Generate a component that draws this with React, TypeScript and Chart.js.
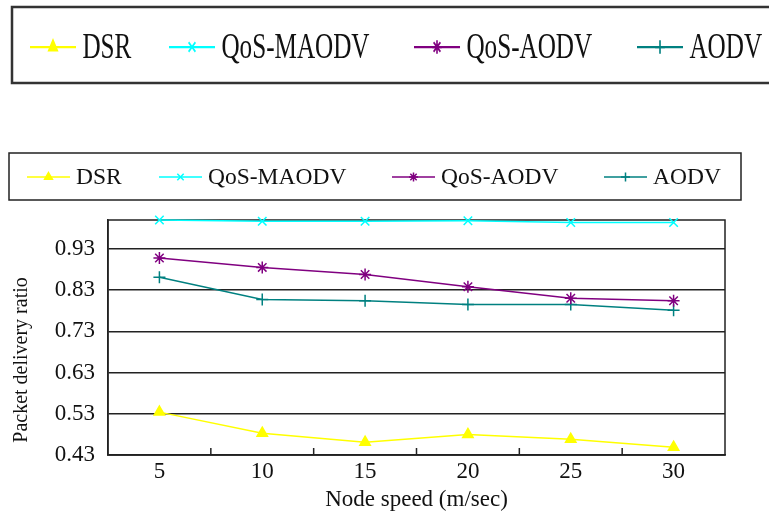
import React, { useEffect, useRef } from "react";
import { Chart, registerables } from "chart.js";
import { drawPoint } from "chart.js/helpers";

Chart.register(...registerables);

// ---- data ----
const categories = ["5", "10", "15", "20", "25", "30"];
const seriesNames = ["DSR", "QoS-MAODV", "QoS-AODV", "AODV"];
const dsr = [0.534, 0.483, 0.461, 0.48, 0.468, 0.449];
const qosMaodv = [1.0, 0.997, 0.997, 0.998, 0.994, 0.994];
const qosAodv = [0.908, 0.885, 0.868, 0.838, 0.81, 0.804];
const aodv = [0.861, 0.807, 0.804, 0.795, 0.795, 0.781];
const yTicks = [0.43, 0.53, 0.63, 0.73, 0.83, 0.93];
const yMin = 0.43;
const yMax = 1.0;
const xTitle = "Node speed (m/sec)";
const yTitle = "Packet delivery ratio";

const colors = ["#FFFF00", "#00FFFF", "#800080", "#008080"];
const pointStyles = ["triangle", "crossRot", "star", "cross"];
const seriesValues = [dsr, qosMaodv, qosAodv, aodv];

const FONT = "'Liberation Serif', 'Times New Roman', serif";
const INK = "#111";
const FRAME = "#222";

type LegendCfg = {
  starts: number[];
  midY: number;
  sx: number;
  sy: number;
};

function drawLegendItems(ctx: CanvasRenderingContext2D, chart: any, cfg: LegendCfg) {
  const L = 43;
  chart.data.datasets.forEach((d: any, i: number) => {
    ctx.save();
    ctx.translate(cfg.starts[i], cfg.midY);
    ctx.scale(cfg.sx, cfg.sy);
    ctx.strokeStyle = d.borderColor;
    ctx.fillStyle = d.backgroundColor;
    ctx.lineWidth = 1.5;
    ctx.beginPath();
    ctx.moveTo(0, 0);
    ctx.lineTo(L, 0);
    ctx.stroke();
    drawPoint(ctx, { pointStyle: d.pointStyle, radius: 4.5, rotation: 0, borderWidth: 1.5 } as any, L / 2, 0);
    ctx.fillStyle = INK;
    ctx.font = `23.5px ${FONT}`;
    ctx.textAlign = "left";
    ctx.textBaseline = "alphabetic";
    ctx.fillText(d.label, 49, 7);
    ctx.restore();
  });
}

const decor = {
  id: "decor",
  beforeDatasetsDraw(chart: any) {
    const { ctx, chartArea: a, scales } = chart;
    ctx.save();
    ctx.strokeStyle = FRAME;
    ctx.lineWidth = 1.5;
    ctx.strokeRect(a.left, a.top, a.right - a.left, a.bottom - a.top);
    const xs = scales.x;
    for (let i = 1; i < categories.length; i++) {
      const px = (xs.getPixelForValue(i - 1) + xs.getPixelForValue(i)) / 2;
      ctx.beginPath();
      ctx.moveTo(px, a.bottom);
      ctx.lineTo(px, a.bottom - 7);
      ctx.stroke();
    }
    ctx.restore();
  },
  afterDraw(chart: any) {
    const { ctx } = chart;
    ctx.save();
    // y axis title
    ctx.translate(22, 360);
    ctx.rotate(-Math.PI / 2);
    ctx.fillStyle = INK;
    ctx.font = `20px ${FONT}`;
    ctx.textAlign = "center";
    ctx.textBaseline = "middle";
    ctx.fillText(yTitle, 0, 0);
    ctx.restore();

    // lower legend box + items
    ctx.save();
    ctx.strokeStyle = FRAME;
    ctx.lineWidth = 1.5;
    ctx.strokeRect(9, 153, 732, 47);
    ctx.restore();
    drawLegendItems(ctx, chart, { starts: [27, 159, 392, 604], midY: 177, sx: 1, sy: 1 });

    // top (enlarged) legend box + items
    ctx.save();
    ctx.strokeStyle = "#333";
    ctx.lineWidth = 2.5;
    ctx.strokeRect(12, 7, 800, 76);
    ctx.restore();
    drawLegendItems(ctx, chart, { starts: [30, 169, 414, 637], midY: 47, sx: 1.07, sy: 1.5 });
  },
};

export default function App() {
  const ref = useRef<HTMLCanvasElement>(null);
  useEffect(() => {
    const chart = new Chart(ref.current as HTMLCanvasElement, {
      type: "line",
      data: {
        labels: categories,
        datasets: seriesNames.map((name, i) => ({
          label: name,
          data: seriesValues[i],
          borderColor: colors[i],
          backgroundColor: colors[i],
          pointStyle: pointStyles[i] as any,
          pointRadius: 6,
          pointBorderWidth: 1.5,
          borderWidth: 1.5,
          tension: 0,
          clip: false as any,
        })),
      },
      options: {
        animation: false,
        responsive: true,
        maintainAspectRatio: false,
        layout: { padding: { top: 220, right: 44, left: 0, bottom: 0 } },
        plugins: { legend: { display: false }, tooltip: { enabled: false } },
        scales: {
          x: {
            type: "category",
            offset: true,
            grid: { display: false, drawTicks: false },
            border: { display: true, color: FRAME, width: 1.5 },
            ticks: { font: { family: FONT, size: 23 }, color: INK, padding: 3, maxRotation: 0 },
            title: {
              display: true,
              text: xTitle,
              font: { family: FONT, size: 23 },
              color: INK,
              padding: { top: 3, bottom: 3 },
            },
            afterFit(s: any) {
              s.height = 62;
            },
          },
          y: {
            min: yMin,
            max: yMax,
            afterBuildTicks(s: any) {
              s.ticks = yTicks.map((v) => ({ value: v }));
            },
            ticks: {
              callback: (v: any) => Number(v).toFixed(2),
              font: { family: FONT, size: 23 },
              color: INK,
              padding: 13,
            },
            grid: { color: FRAME, lineWidth: 1.5, drawTicks: false },
            border: { display: true, color: FRAME, width: 1.5 },
            afterFit(s: any) {
              s.width = 108;
            },
          },
        },
      },
      plugins: [decor],
    });
    return () => chart.destroy();
  }, []);
  return (
    <div style={{ position: "fixed", left: 0, top: 0, width: 769, height: 517, background: "#fff" }}>
      <canvas ref={ref} />
    </div>
  );
}
